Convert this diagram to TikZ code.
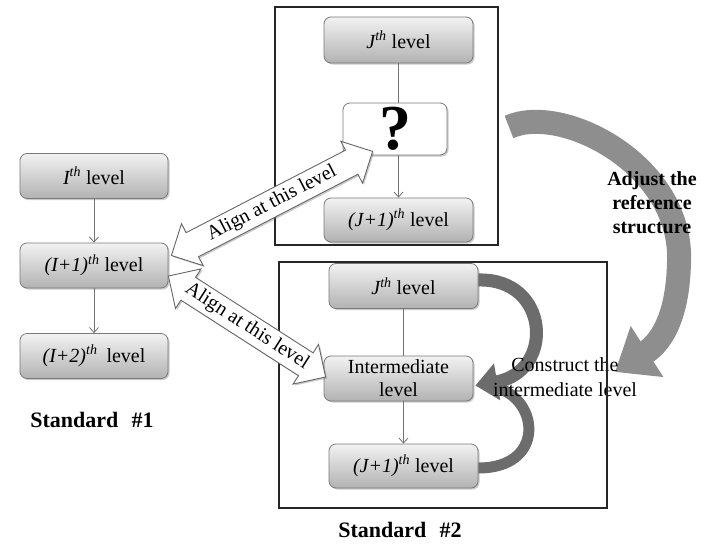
\documentclass[tikz,border=0pt]{standalone}
\usepackage{fontspec}
\setmainfont{Liberation Serif}
\usetikzlibrary{arrows.meta,shapes.arrows,shadows,calc}

\definecolor{boxedge}{HTML}{7A7A7A}
\definecolor{boxtop}{HTML}{F2F2F2}
\definecolor{boxbot}{HTML}{B2B2B2}
\definecolor{bigarc}{HTML}{8E8E8E}
\definecolor{smallarc}{HTML}{6C6C6C}

\tikzset{
  txt/.style={font=\fontsize{20}{24}\selectfont},
  boxshadow/.style={drop shadow={shadow xshift=1.5pt, shadow yshift=-1.5pt, opacity=0.35, fill=black!60}},
  levelbox/.style={txt, draw=boxedge, line width=0.8pt, rounded corners=7pt,
    top color=boxtop, bottom color=boxbot, minimum width=148pt,
    minimum height=45pt, inner sep=0pt, boxshadow},
  qbox/.style={draw=boxedge, line width=0.8pt, rounded corners=7pt, fill=white,
    minimum width=104pt, minimum height=52pt, inner sep=0pt, boxshadow,
    font=\fontsize{64}{64}\selectfont\bfseries},
  frame/.style={draw=black!85, line width=1.8pt},
  link/.style={draw=black!55, line width=0.8pt},
  linkarrow/.style={link, -{Straight Barb[length=5pt,width=9pt]}},
  alignarrow/.style={double arrow, draw=black!60, fill=white, line width=0.9pt,
    txt, inner xsep=0pt, inner ysep=4pt, double arrow head extend=10pt,
    double arrow tip angle=90, boxshadow},
  caption/.style={font=\fontsize{22}{26}\selectfont\bfseries},
}

\newcommand{\lvl}[1]{{\itshape #1}\textsuperscript{\itshape th}}

\begin{document}
\begin{tikzpicture}[x=1pt, y=-1pt]
  \useasboundingbox (0,0) rectangle (714,546);

  % outer frames of the second standard
  \draw[frame] (275,7) rectangle (498,245);
  \draw[frame] (279,262) rectangle (607,508);

  % Standard #1
  \node[levelbox] (I0) at (94,176) {\lvl{I} level};
  \node[levelbox] (I1) at (94,265.5) {\lvl{(I+1)} level};
  \node[levelbox] (I2) at (94,356) {\lvl{(I+2)}\hspace{0.45em}level};
  \node[caption] (s1) at (92,420) {Standard\hspace{0.6em}\#1};

  \draw[linkarrow] (I0.south) -- (I1.north);
  \draw[linkarrow] (I1.south) -- (I2.north);

  % Standard #2, before adjustment
  \node[levelbox, minimum width=149pt, minimum height=46pt] (Ja) at (398.5,40) {\lvl{J} level};
  \node[qbox] (Q) at (395,129) {\raisebox{-2pt}{?}};
  \node[levelbox, minimum width=149pt, minimum height=44pt] (Jc) at (398.5,220) {\lvl{(J+1)} level};

  \draw[link] (Ja.south) -- (Ja.south |- Q.north);
  \draw[linkarrow] (Ja.south |- Q.south) -- (Jc.north);

  % Standard #2, after adjustment
  \node[levelbox, minimum width=149pt, minimum height=45pt] (Jb) at (403.5,286) {\lvl{J} level};
  \node[levelbox, minimum width=149pt, minimum height=45pt, align=center,
        font=\fontsize{20}{23}\selectfont] (Im) at (398.5,378.5) {Intermediate\\level};
  \node[levelbox, minimum width=149pt, minimum height=44pt] (Jd) at (403.5,466) {\lvl{(J+1)} level};
  \node[caption] (s2) at (400,530) {Standard\hspace{0.6em}\#2};

  \draw[link] (Jb.south) -- (Jb.south |- Im.north);
  \draw[linkarrow] (Jb.south |- Im.south) -- (Jd.north);

  % hollow alignment arrows
  \coordinate (a1s) at ($(I1.east)+(3,-10)$);
  \coordinate (a1e) at ($(Q.south west)+(30,-4)$);
  \coordinate (a2s) at ($(I1.east)+(0,10.5)$);
  \coordinate (a2e) at ($(Im.west)+(2,-1.5)$);
  \path let \p1=(a1s), \p2=(a1e),
            \n1={atan2(\y2-\y1,\x2-\x1)}, \n2={veclen(\x2-\x1,\y2-\y1)} in
        ($(a1s)!0.5!(a1e)$) node[alignarrow, rotate=\n1, minimum height=\n2] (al1) {Align at this level};
  \path let \p1=(a2s), \p2=(a2e),
            \n1={atan2(\y2-\y1,\x2-\x1)}, \n2={veclen(\x2-\x1,\y2-\y1)} in
        ($(a2s)!0.5!(a2e)$) node[alignarrow, rotate=\n1, minimum height=\n2] (al2) {Align at this level};

  % constructing the intermediate level
  \coordinate (mtip) at ($(Im.east)+(2,7)$);
  \draw[smallarc, line width=11pt] ($(Jd.east)+(0,2)$)
      .. controls (545,468) and (540,400) .. ($(mtip)+(21,2)$);
  \draw[smallarc, line width=13pt, -{Triangle[length=22pt,width=36pt]}]
      ($(Jb.east)+(0,-6)$) .. controls (550,278) and (555,372) .. (mtip);

  % adjusting the reference structure
  \coordinate (btail) at (509,127);
  \coordinate (btip) at (615,372);
  \draw[bigarc, line width=24pt, -{Triangle[length=38pt,width=58pt]}]
      (btail) .. controls (562,103) and (683,165) .. (679,262)
      .. controls (678,310) and (665,340) .. (btip);

  \node[font=\fontsize{20}{24}\selectfont\bfseries, align=center] (adj) at (652,203)
      {Adjust the\\reference\\structure};
  \node[txt, align=center, font=\fontsize{20}{25}\selectfont] (con) at (565,377)
      {Construct the\\intermediate level};

  % right edge of the lower frame runs across the caption
  \draw[frame] (607,262) -- (607,508);
\end{tikzpicture}
\end{document}
